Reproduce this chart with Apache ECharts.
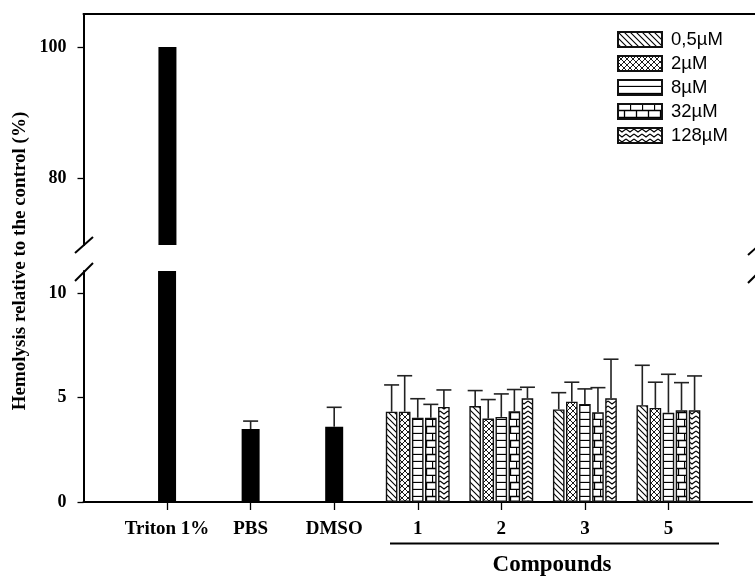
<!DOCTYPE html>
<html><head><meta charset="utf-8">
<script src="https://cdn.jsdelivr.net/npm/echarts@6/dist/echarts.min.js"></script>
<style>html,body{margin:0;padding:0;background:#fff;} #chart{width:755px;height:577px;}</style>
</head><body><div id="chart"></div>
<script>
// ---- data ----
const categories = ['', 'Triton 1%', 'PBS', 'DMSO', '1', '2', '3', '5', ''];
const controlNames = ['Triton 1%', 'PBS', 'DMSO'];
const controlMeans = [100, 3.49, 3.60];
const controlErrors = [0, 0.38, 0.93];
const compoundNames = ['1', '2', '3', '5'];
const concentrations = ['0,5µM', '2µM', '8µM', '32µM', '128µM'];
const mean_0_5uM = [4.32, 4.59, 4.43, 4.63];
const mean_2uM   = [4.32, 3.99, 4.80, 4.50];
const mean_8uM   = [4.03, 4.07, 4.69, 4.27];
const mean_32uM  = [4.03, 4.34, 4.29, 4.39];
const mean_128uM = [4.55, 4.96, 4.96, 4.39];
const err_0_5uM = [1.28, 0.74, 0.80, 1.91];
const err_2uM   = [1.72, 0.91, 0.93, 1.23];
const err_8uM   = [0.91, 1.10, 0.72, 1.84];
const err_32uM  = [0.64, 1.04, 1.18, 1.32];
const err_128uM = [0.81, 0.53, 1.87, 1.64];
const yTicksUpper = [80, 100];
const yTicksLower = [0, 5, 10];

const means = [mean_0_5uM, mean_2uM, mean_8uM, mean_32uM, mean_128uM];
const errs = [err_0_5uM, err_2uM, err_8uM, err_32uM, err_128uM];

// ---- patterns ----
function pat(kind) {
  const c = document.createElement('canvas');
  let w = 6, h = 6;
  if (kind === 'hline') { w = 8; h = 7; }
  if (kind === 'brick') { w = 12; h = 14; }
  if (kind === 'wave') { w = 8; h = 5; }
  c.width = w; c.height = h;
  const g = c.getContext('2d');
  g.fillStyle = '#fff'; g.fillRect(0, 0, w, h);
  g.strokeStyle = '#000'; g.lineWidth = 1.1;
  g.beginPath();
  if (kind === 'diag') {
    g.moveTo(-1, -1); g.lineTo(7, 7);
    g.moveTo(-1, 5); g.lineTo(1, 7);
    g.moveTo(5, -1); g.lineTo(7, 1);
  } else if (kind === 'cross') {
    g.lineWidth = 0.9;
    g.moveTo(-1, -1); g.lineTo(7, 7);
    g.moveTo(-1, 7); g.lineTo(7, -1);
  } else if (kind === 'hline') {
    g.lineWidth = 1.3;
    g.moveTo(0, 6.5); g.lineTo(w, 6.5);
  } else if (kind === 'brick') {
    g.lineWidth = 1.3;
    g.moveTo(0, 6.5); g.lineTo(w, 6.5);
    g.moveTo(0, 13.5); g.lineTo(w, 13.5);
    g.moveTo(0.5, 0); g.lineTo(0.5, 7);
    g.moveTo(6.5, 7); g.lineTo(6.5, 14);
  } else if (kind === 'wave') {
    g.moveTo(0, 1); g.lineTo(4, 4); g.lineTo(8, 1);
  }
  g.stroke();
  return { image: c, repeat: 'repeat' };
}
const patterns = [pat('diag'), pat('cross'), pat('hline'), pat('brick'), pat('wave')];

const SERIF = '"Liberation Serif", "Times New Roman", serif';
const SANS = '"Liberation Sans", Arial, sans-serif';

const ctrlData = categories.map(c => { const i = controlNames.indexOf(c); return i >= 0 ? controlMeans[i] : null; });
const tritonTop = categories.map(c => c === 'Triton 1%' ? controlMeans[0] : null);

const BAR_W = 0.139, BAR_GAP = 0.125;

const series = [];
series.push({
  type: 'bar', xAxisIndex: 2, yAxisIndex: 0, data: tritonTop, barWidth: 18,
  itemStyle: { color: '#000' }, silent: true
});
series.push({
  type: 'bar', xAxisIndex: 1, yAxisIndex: 1, data: ctrlData, barWidth: 18,
  itemStyle: { color: '#000' }, silent: true
});
concentrations.forEach((name, k) => {
  series.push({
    name, type: 'bar', xAxisIndex: 0, yAxisIndex: 1,
    data: categories.map(c => { const i = compoundNames.indexOf(c); return i >= 0 ? means[k][i] : null; }),
    barWidth: (BAR_W * 100) + '%', barGap: (BAR_GAP * 100) + '%',
    itemStyle: { color: patterns[k], borderColor: '#111', borderWidth: 1.4 }
  });
});

function errRender(params, api) {
  const x = api.value(0), v = api.value(1), e = api.value(2), k = api.value(3);
  if (!e) return null;
  const base = api.coord([x, v]);
  const top = api.coord([x, v + e]);
  const band = api.size([1, 0])[0];
  const off = k < 0 ? 0 : (k - 2) * band * BAR_W * (1 + BAR_GAP);
  const cx = base[0] + off;
  const cap = 7.5;
  const st = { stroke: '#222', lineWidth: 1.6 };
  return { type: 'group', children: [
    { type: 'line', shape: { x1: cx, y1: base[1], x2: cx, y2: top[1] }, style: st },
    { type: 'line', shape: { x1: cx - cap, y1: top[1], x2: cx + cap, y2: top[1] }, style: st }
  ]};
}
const ctrlErrData = controlNames.map((n, i) => [categories.indexOf(n), controlMeans[i], controlErrors[i], -1]);
series.push({ type: 'custom', xAxisIndex: 1, yAxisIndex: 1, renderItem: errRender, data: ctrlErrData, z: 5, silent: true });
const cmpErrData = [];
concentrations.forEach((n, k) => compoundNames.forEach((c, i) => cmpErrData.push([categories.indexOf(c), means[k][i], errs[k][i], k])));
series.push({ type: 'custom', xAxisIndex: 0, yAxisIndex: 1, renderItem: errRender, data: cmpErrData, z: 5, silent: true });

const axisLine = { show: true, lineStyle: { color: '#000', width: 2 } };
const tickStyle = { color: '#000', width: 1.3 };
const labelFont = { color: '#000', fontFamily: SERIF, fontWeight: 'bold', fontSize: 18 };

const option = {
  animation: false,
  backgroundColor: '#fff',
  grid: [
    { left: 83.5, top: 14, width: 673.5, height: 231 },
    { left: 83.5, top: 271, width: 673.5, height: 231 }
  ],
  xAxis: [
    { type: 'category', gridIndex: 1, data: categories, boundaryGap: false,
      axisLine, axisTick: { show: true, length: 8, lineStyle: tickStyle, interval: (i) => i > 0 && i < categories.length - 1 },
      axisLabel: Object.assign({}, labelFont, { interval: 0, margin: 18, fontSize: 19 }), splitLine: { show: false } },
    { type: 'category', gridIndex: 1, data: categories, boundaryGap: false, show: false },
    { type: 'category', gridIndex: 0, data: categories, boundaryGap: false, position: 'top',
      axisLine, axisTick: { show: false }, axisLabel: { show: false }, splitLine: { show: false } }
  ],
  yAxis: [
    { type: 'value', gridIndex: 0, min: 69.77, max: 105.04, axisLine,
      axisTick: { show: true, length: 6, lineStyle: tickStyle, customValues: yTicksUpper },
      axisLabel: Object.assign({ margin: 17, customValues: yTicksUpper }, labelFont), splitLine: { show: false } },
    { type: 'value', gridIndex: 1, min: 0, max: 11.05, axisLine,
      axisTick: { show: true, length: 6, lineStyle: tickStyle, customValues: yTicksLower },
      axisLabel: Object.assign({ margin: 17, customValues: yTicksLower }, labelFont), splitLine: { show: false } }
  ],
  legend: {
    data: concentrations, orient: 'vertical', left: 612, top: 25,
    itemWidth: 44, itemHeight: 15, itemGap: 5, icon: 'rect',
    textStyle: { fontFamily: SANS, fontSize: 18.5, color: '#000', padding: [0, 0, 0, 4] },
    selectedMode: false
  },
  series,
  graphic: [
    { type: 'text', x: 20, y: 261, rotation: Math.PI / 2,
      style: { text: 'Hemolysis relative to the control (%)', fontFamily: SERIF, fontWeight: 'bold', fontSize: 19, fill: '#000', align: 'center', verticalAlign: 'middle' } },
    { type: 'text', x: 552, y: 565,
      style: { text: 'Compounds', fontFamily: SERIF, fontWeight: 'bold', fontSize: 23, fill: '#000', align: 'center', verticalAlign: 'middle' } },
    { type: 'line', shape: { x1: 390, y1: 543.5, x2: 719, y2: 543.5 }, style: { stroke: '#000', lineWidth: 2 } },
    { type: 'line', shape: { x1: 75, y1: 253, x2: 93, y2: 237 }, style: { stroke: '#000', lineWidth: 2 } },
    { type: 'line', shape: { x1: 75, y1: 281, x2: 93, y2: 263 }, style: { stroke: '#000', lineWidth: 2 } },
    { type: 'line', shape: { x1: 748, y1: 255, x2: 766, y2: 239 }, style: { stroke: '#000', lineWidth: 2 } },
    { type: 'line', shape: { x1: 748, y1: 283, x2: 766, y2: 265 }, style: { stroke: '#000', lineWidth: 2 } }
  ]
};
const chart = echarts.init(document.getElementById('chart'), null, { renderer: 'canvas' });
chart.setOption(option);
</script></body></html>
